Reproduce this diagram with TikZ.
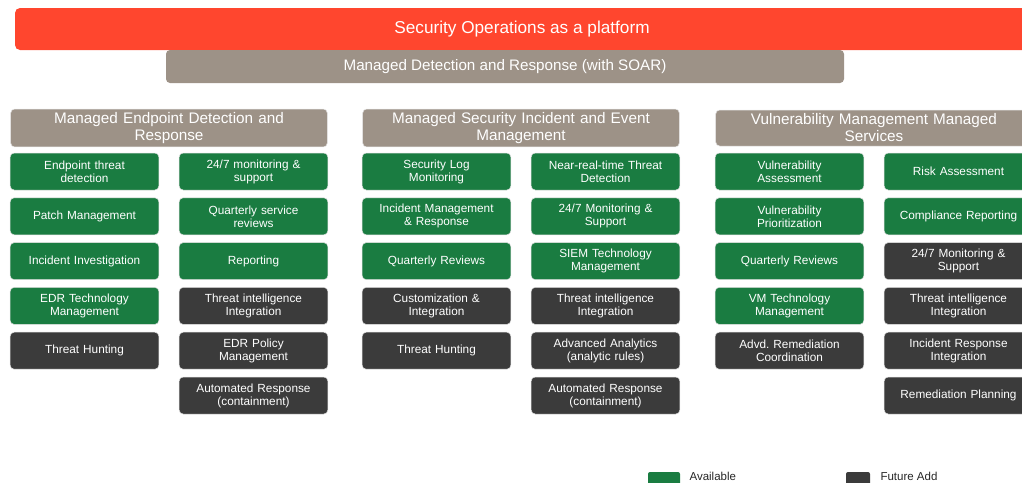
\documentclass[tikz,border=0pt]{standalone}
\usepackage{fontspec}
\setmainfont{Liberation Sans}
\usetikzlibrary{positioning}
\frenchspacing

\definecolor{platformred}{HTML}{FF462E}
\definecolor{taupe}{HTML}{9D9287}
\definecolor{availgreen}{HTML}{1A7C41}
\definecolor{futuredark}{HTML}{3B3B3B}

\tikzset{
  box/.style={rounded corners=4pt, minimum width=147pt, minimum height=37pt,
    text width=142pt, align=center, text=white, draw=black!12, line width=0.5pt,
    font=\fontsize{11.8}{13}\selectfont},
  avail/.style={fill=availgreen},
  future/.style={fill=futuredark},
  header/.style={fill=taupe, rounded corners=4pt, draw=black!10, line width=0.5pt,
    minimum width=316pt, minimum height=36pt, text width=310pt, align=center,
    text=white, font=\fontsize{15.3}{17}\selectfont},
  legendtext/.style={anchor=west, text=black!85, font=\fontsize{11.5}{12}\selectfont}
}

\begin{document}
\begin{tikzpicture}[x=1pt,y=-1pt]
\useasboundingbox (0,0) rectangle (1022,482);
\clip (0,0) rectangle (1022,482);

% top bars
\fill[platformred, rounded corners=5pt] (15,8) rectangle (1045,50);
\node[text=white, font=\fontsize{17.2}{19}\selectfont] (platform) at (522,29) {Security Operations as a platform};
\fill[taupe, rounded corners=4pt] (166,50) rectangle (844,83);
\node[text=white, font=\fontsize{15.2}{17}\selectfont] (mdr) at (505,66.5) {Managed Detection and Response (with SOAR)};

% column headers
\node[header] (edr) at (169,128) {Managed Endpoint Detection and\\Response};
\node[header] (siem) at (521,128) {Managed Security Incident and Event\\Management};
\node[header] (vm) at (874,128) {Vulnerability Management Managed\\Services};

% service boxes
\foreach \col/\row/\kind/\txt [count=\i] in {
  1/1/avail/{Endpoint threat\\detection},
  1/2/avail/{Patch Management},
  1/3/avail/{Incident Investigation},
  1/4/avail/{EDR Technology\\Management},
  1/5/future/{Threat Hunting},
  2/1/avail/{24/7 monitoring \&\\support},
  2/2/avail/{Quarterly service\\reviews},
  2/3/avail/{Reporting},
  2/4/future/{Threat intelligence\\Integration},
  2/5/future/{EDR Policy\\Management},
  2/6/future/{Automated Response\\(containment)},
  3/1/avail/{Security Log\\Monitoring},
  3/2/avail/{Incident Management\\\& Response},
  3/3/avail/{Quarterly Reviews},
  3/4/future/{Customization \&\\Integration},
  3/5/future/{Threat Hunting},
  4/1/avail/{Near-real-time Threat\\Detection},
  4/2/avail/{24/7 Monitoring \&\\Support},
  4/3/avail/{SIEM Technology\\Management},
  4/4/future/{Threat intelligence\\Integration},
  4/5/future/{Advanced Analytics\\(analytic rules)},
  4/6/future/{Automated Response\\(containment)},
  5/1/avail/{Vulnerability\\Assessment},
  5/2/avail/{Vulnerability\\Prioritization},
  5/3/avail/{Quarterly Reviews},
  5/4/avail/{VM Technology\\Management},
  5/5/future/{Advd. Remediation\\Coordination},
  6/1/avail/{Risk Assessment},
  6/2/avail/{Compliance Reporting},
  6/3/future/{24/7 Monitoring \&\\Support},
  6/4/future/{Threat intelligence\\Integration},
  6/5/future/{Incident Response\\Integration},
  6/6/future/{Remediation Planning}} {
  \pgfmathsetmacro{\bx}{{84.5,253.5,436.5,605.5,789.5,958.5}[\col-1]}
  \node[box,\kind] (b\i) at (\bx,{171.5+44.8*(\row-1)}) {\txt};
}

% legend
\fill[availgreen, rounded corners=2pt] (648,472) rectangle (680,492);
\node[legendtext] (avail) at (686,476.5) {Available};
\fill[futuredark, rounded corners=2pt] (846,472) rectangle (870,492);
\node[legendtext] (future) at (877,476.5) {Future Add};
\end{tikzpicture}
\end{document}
